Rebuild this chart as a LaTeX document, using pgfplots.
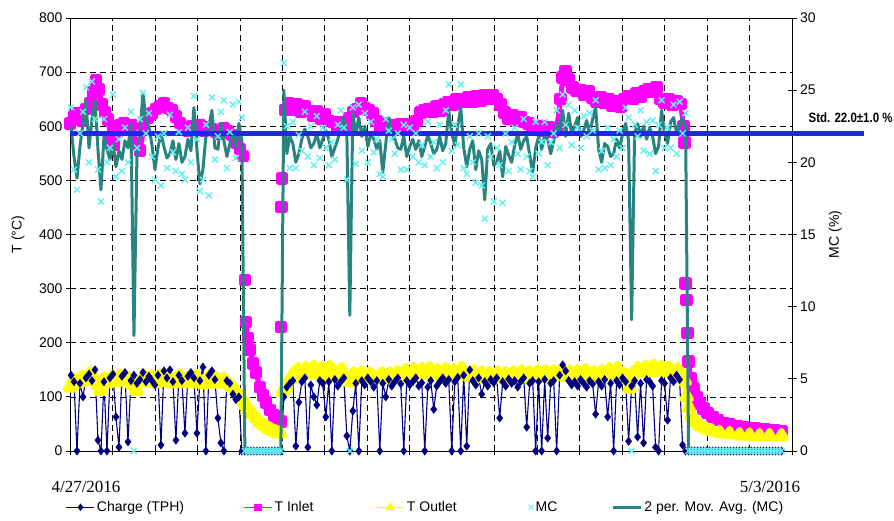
\documentclass[border=0pt]{standalone}
\usepackage{fontspec}
\setmainfont{Liberation Sans}
\newfontfamily\seriffont{Liberation Serif}
\newfontfamily\condfont[FakeStretch=0.85]{Liberation Sans}
\usepackage{pgfplots}
\usepackage{pgfplotstable}
\pgfplotsset{compat=1.18}
\definecolor{navyc}{RGB}{0,0,128}
\definecolor{magc}{RGB}{255,0,255}
\definecolor{yelc}{RGB}{255,255,0}
\definecolor{cyanc}{RGB}{100,240,240}
\definecolor{tealc}{RGB}{40,132,128}
\definecolor{stdc}{RGB}{30,40,245}

\pgfplotstableread{
x ch mc ma
71 140 23.8 22.5
74 128 19.5 20.4
77 0 18.1 18.9
80 125 22.0 21.1
83 100 23.5 22.7
86 135 25.2 24.3
89 142 20.0 21.0
92 130 25.6 23.0
95 150 23.0 24.3
98 20 19.5 20.9
101 0 17.3 18.1
104 128 23.0 21.8
107 0 20.0 20.9
110 135 21.0 20.2
113 142 24.7 21.3
116 63 19.0 19.7
119 7 21.6 20.8
122 138 19.4 20.2
125 145 22.4 21.5
128 17 20.0 21.0
131 130 23.5 22.7
134 140 0 8.0
137 125 21.0 20.5
140 132 23.0 22.0
143 145 24.8 24.8
146 128 22.0 23.0
149 138 23.4 22.5
152 130 20.4 21.2
155 122 18.8 19.5
158 140 21.8 21.0
161 11 18.4 22.0
164 148 22.0 21.1
167 135 19.6 20.3
170 150 23.3 20.6
173 128 20.7 21.5
176 20 19.4 20.2
179 140 22.1 21.3
182 130 19.2 20.0
185 33 18.8 20.4
188 138 22.4 21.6
191 145 20.0 20.8
194 135 24.6 23.8
197 33 21.6 20.9
200 130 18.0 18.5
203 155 18.8 19.5
206 0 22.6 21.8
209 140 17.7 22.5
212 148 24.5 23.6
215 132 20.2 21.0
218 61 21.8 20.9
221 15 23.5 22.7
224 0 24.3 21.5
227 130 19.6 20.4
230 125 22.1 21.3
233 105 24.0 22.0
236 95 20.3 21.0
239 100 24.2 22.7
242 0 23.1 21.5
245 0 0 0
248 0 0 0
251 0 0 0
254 0 0 0
257 0 0 0
260 0 0 0
263 0 0 0
266 0 0 0
269 0 0 0
272 0 0 0
275 0 0 0
278 0 0 0
281 0 0 0
284 100 26.9 25.0
287 118 22.5 20.6
290 125 19.6 21.8
293 130 22.8 21.3
296 9 19.6 20.0
299 90 21.9 20.6
302 128 20.8 21.6
305 135 23.5 22.3
308 7 20.4 21.8
311 122 22.5 21.0
314 100 19.8 21.3
317 85 23.2 22.0
320 130 20.3 21.0
323 125 22.4 21.6
326 63 21.0 22.2
329 128 19.8 21.6
332 0 21.4 20.4
335 132 20.2 21.0
338 120 22.6 21.6
341 128 23.6 22.5
344 135 22.4 23.1
347 28 18.8 22.2
350 0 0 9.4
353 74 23.8 23.4
356 125 19.9 22.0
359 0 24.0 23.1
362 130 20.8 21.8
365 122 23.4 22.5
368 135 20.0 21.1
371 128 22.8 22.0
374 118 20.7 21.6
377 130 21.6 20.9
380 0 19.2 21.5
383 125 19.0 19.3
386 100 23.0 21.3
389 132 22.2 23.1
392 120 21.6 22.0
395 128 20.6 21.6
398 135 22.0 21.0
401 124 19.5 20.9
404 0 22.6 21.8
407 130 19.5 20.4
410 122 22.4 21.1
413 128 20.4 21.6
416 135 22.0 20.9
419 120 20.0 21.5
422 126 21.2 20.4
425 0 19.8 21.1
428 118 22.8 21.9
431 130 20.4 21.3
434 77 21.4 20.6
437 120 19.6 20.9
440 128 22.6 21.8
443 135 20.0 20.8
446 125 23.6 21.3
449 132 25.4 23.6
452 0 20.8 22.0
455 128 22.6 21.2
458 136 21.2 22.5
461 0 25.4 23.8
464 140 19.6 21.0
467 9 19.2 19.7
470 150 21.8 20.9
473 130 20.0 21.5
476 122 18.6 19.5
479 135 22.0 20.8
482 105 18.4 20.2
485 128 16.1 17.4
488 120 21.8 20.9
491 132 20.4 21.3
494 126 17.3 19.8
497 135 21.0 20.0
500 61 19.8 20.8
503 128 17.2 19.0
506 120 22.0 21.1
509 133 19.4 20.5
512 125 21.4 20.0
515 130 22.4 21.2
518 118 20.6 22.0
521 128 19.5 20.9
524 135 23.0 21.5
527 44 20.4 21.8
530 125 19.4 20.5
533 130 19.0 19.3
536 0 22.8 21.0
539 128 20.6 21.8
542 0 21.4 20.9
545 132 22.8 21.9
548 24 19.8 21.6
551 125 21.4 20.6
554 130 22.0 21.5
557 0 23.6 22.7
560 140 21.0 22.0
563 159 24.7 23.6
566 148 22.6 21.8
569 130 24.0 23.4
572 122 21.2 22.0
575 128 23.6 22.5
578 120 22.4 23.1
581 132 21.0 21.8
584 125 23.2 22.2
587 118 21.8 22.9
590 130 23.4 22.0
593 124 22.2 23.0
596 68 24.3 23.8
599 128 19.5 20.9
602 120 20.8 20.0
605 132 19.6 21.3
608 63 22.4 21.1
611 125 19.8 20.4
614 0 21.6 20.6
617 130 20.4 21.6
620 122 22.2 21.0
623 135 21.0 22.0
626 128 23.8 22.7
629 18 23.1 21.5
632 120 0 9.1
635 130 22.6 22.0
638 26 21.8 22.7
641 125 23.6 21.8
644 15 20.8 22.5
647 132 22.8 21.6
650 128 20.6 22.4
653 120 22.9 21.8
656 7 19.4 20.6
659 0 22.6 21.1
662 130 24.3 23.6
665 125 21.0 22.0
668 57 22.4 21.3
671 135 21.0 22.8
674 128 24.0 23.1
677 140 20.6 22.0
680 132 24.2 22.6
683 11 22.0 23.1
686 0 23.4 22.5
689 0 0 0
692 0 0 0
695 0 0 0
698 0 0 0
701 0 0 0
704 0 0 0
707 0 0 0
710 0 0 0
713 0 0 0
716 0 0 0
719 0 0 0
722 0 0 0
725 0 0 0
728 0 0 0
731 0 0 0
734 0 0 0
737 0 0 0
740 0 0 0
743 0 0 0
746 0 0 0
749 0 0 0
752 0 0 0
755 0 0 0
758 0 0 0
761 0 0 0
764 0 0 0
767 0 0 0
770 0 0 0
773 0 0 0
776 0 0 0
779 0 0 0
782 0 0 0
}\main

\pgfplotstableread{
x t
70 605
74 618
78 624
82 610
86 632
90 642
93 662
96 685
99 668
102 640
105 626
108 612
111 578
114 566
117 590
120 602
124 606
128 596
132 602
136 568
140 555
144 598
148 616
152 624
156 632
160 636
164 642
168 634
172 630
176 618
180 606
184 596
188 592
192 600
196 594
200 602
204 592
208 598
212 594
216 590
220 586
224 596
228 590
232 584
236 570
240 558
243 545
244 nan
245 316
245.5 nan
246 238
248 209
250 187
253 162
256 145
260 118
263 102
266 90
270 76
274 66
278 58
281 54
281 nan
281 229
281 nan
281.5 451
281.5 nan
282 504
282 nan
285 630
289 642
293 630
297 640
301 626
305 636
309 628
313 620
317 628
321 614
325 622
329 610
333 608
337 600
341 608
345 598
349 615
353 626
357 632
361 642
365 634
369 630
373 624
377 610
381 598
385 606
389 596
393 602
397 595
401 603
405 597
409 604
413 598
417 610
421 625
425 630
429 632
433 626
437 636
441 628
445 640
449 645
453 640
457 650
461 648
465 646
469 654
473 646
477 656
481 648
485 658
489 650
493 658
497 650
501 640
505 625
509 614
513 620
517 610
521 617
525 608
529 605
533 597
537 598
541 600
545 592
549 598
553 590
557 597
561 650
563 690
566 702
569 686
573 672
577 666
581 666
585 658
589 664
593 652
597 646
601 654
605 644
609 650
613 638
617 646
621 636
625 650
629 656
633 650
637 660
641 654
645 664
649 668
653 664
657 672
661 650
665 644
669 650
673 640
677 646
681 641
684 600
684.5 nan
685 570
685.5 nan
686 310
686.5 nan
687 279
687.5 nan
688 218
688.5 nan
689 165
691 135
694 115
697 100
700 88
704 78
708 70
713 63
718 57
724 52
730 49
738 46
746 44
755 42
765 40
775 38
782 37
}\tin

\pgfplotstableread{
x t
70 118
74 130
78 126
82 136
86 130
90 142
94 134
98 122
101 112
104 132
108 126
112 136
116 128
120 138
124 130
128 134
132 124
136 112
140 130
144 138
148 128
152 136
156 126
160 138
164 128
168 136
172 126
176 134
180 138
184 126
188 134
192 126
196 138
200 128
204 124
208 136
212 126
216 134
220 126
224 132
228 124
232 118
236 110
240 102
243 94
246 84
249 76
252 69
256 61
260 53
264 47
268 42
272 38
276 35
280 33
281 nan
283 110
284 nan
286 118
290 132
294 144
298 150
302 140
306 152
310 142
314 154
318 144
322 152
326 140
330 154
334 146
338 138
342 150
346 136
350 128
354 142
358 134
362 144
366 134
370 142
374 136
378 134
382 142
386 134
390 142
394 134
398 144
402 136
406 148
410 140
414 150
418 142
422 150
426 142
430 152
434 144
438 148
442 138
446 150
450 142
454 148
458 140
462 152
466 144
470 138
474 146
478 136
482 144
486 134
490 142
494 136
498 144
502 134
506 142
510 134
514 144
518 136
522 146
526 136
530 144
534 136
538 146
542 138
546 146
550 136
554 146
558 140
562 148
566 138
570 146
574 138
578 146
582 140
586 148
590 138
594 144
598 136
602 146
606 140
610 150
614 142
618 152
622 142
626 140
630 116
634 144
638 152
642 146
646 154
650 146
654 156
658 148
662 154
666 146
670 152
674 144
678 150
682 142
685 130
687 100
689 80
692 64
696 54
700 47
706 41
712 37
720 34
730 32
740 30
750 29
760 28
770 28
782 28
}\tout

\begin{document}
\begin{tikzpicture}
\useasboundingbox (-70bp,-70bp) rectangle (824bp,451bp);
\begin{axis}[
  at={(0,0)}, anchor=south west,
  scale only axis, width=722bp, height=433bp,
  xmin=70, xmax=792.5, ymin=0, ymax=800,
  xtick={70,112.5,...,792.5}, xticklabels={},
  ytick={0,100,...,800},
  grid=major,
  major grid style={black, dash pattern=on 6bp off 4bp, line width=0.7bp},
  axis line style={black, line width=0.8bp},
  tick style={black, line width=0.8bp},
  tick align=outside, major tick length=4bp,
  xtick pos=bottom, ytick pos=left,
  ticklabel style={font=\fontsize{14bp}{16bp}\selectfont},
  /pgf/number format/assume math mode=true,
  ylabel={T (°C)},
  ylabel style={font=\fontsize{14bp}{16bp}\selectfont, at={(axis description cs:-0.072,0.5)}, anchor=center},
  unbounded coords=jump,
  clip=false,
  legend columns=5,
  legend style={at={(axis description cs:-0.01,-0.13)}, anchor=west, draw=none, fill=none,
    font=\fontsize{14bp}{16bp}\selectfont,
    /tikz/column 2/.style={column sep=57bp},
    /tikz/column 4/.style={column sep=60bp},
    /tikz/column 6/.style={column sep=70bp},
    /tikz/column 8/.style={column sep=52bp}},
  legend image code/.code={\draw[mark repeat=2,mark phase=2,#1] plot coordinates {(0bp,0bp) (14bp,0bp) (28bp,0bp)};},
]
\addlegendimage{navyc, line width=1bp, mark=diamond*, mark size=3bp}
\addlegendentry{Charge (TPH)}
\addlegendimage{magc, line width=1.5bp, mark=square*, mark size=3bp}
\addlegendentry{T Inlet}
\addlegendimage{yelc, line width=1.5bp, mark=triangle*, mark size=4bp}
\addlegendentry{T Outlet}
\addlegendimage{only marks, mark=x, cyanc, mark size=3.5bp, line width=1bp}
\addlegendentry{MC}
\addlegendimage{tealc, line width=3bp}
\addlegendentry{2 per. Mov. Avg. (MC)}

\addplot[forget plot, magc, line width=5bp, line join=round, mark=square*, mark size=3.8bp] table[x=x, y=t] {\tin};
\addplot[forget plot, yelc, line width=6bp, line join=round, mark=triangle*, mark size=5bp] table[x=x, y=t] {\tout};
\addplot[forget plot, navyc, line width=1.1bp, mark=diamond*, mark size=3.6bp] table[x=x, y=ch] {\main};
\end{axis}
\begin{axis}[
  at={(0,0)}, anchor=south west,
  scale only axis, width=722bp, height=433bp,
  xmin=70, xmax=792.5, ymin=0, ymax=30,
  axis x line=none, axis y line*=right,
  ytick={0,5,...,30},
  axis line style={black, line width=0.8bp},
  tick style={black, line width=0.8bp},
  tick align=center, major tick length=9bp,
  ticklabel style={font=\fontsize{14bp}{16bp}\selectfont},
  /pgf/number format/assume math mode=true,
  ylabel={MC (\%)},
  ylabel style={font=\fontsize{14bp}{16bp}\selectfont, at={(axis description cs:1.06,0.5)}, anchor=center, rotate=0},
  clip=false,
]
\addplot[only marks, mark=x, mark size=4.2bp, cyanc, line width=1.4bp] table[x=x, y=mc] {\main};
\addplot[tealc, line width=3bp, line join=round, no marks] table[x=x, y=ma] {\main};
\addplot[stdc, line width=4.5bp, no marks] coordinates {(70,22) (865,22)};
\node[anchor=base west, inner sep=0pt, font=\condfont\bfseries\fontsize{13.5bp}{15bp}\selectfont] at (axis cs:809,22.75) {Std. 22.0±1.0 \%};
\end{axis}
\node[font=\seriffont\fontsize{17bp}{19bp}\selectfont] at (16bp,-36bp) {4/27/2016};
\node[font=\seriffont\fontsize{17bp}{19bp}\selectfont] at (700bp,-36bp) {5/3/2016};
\end{tikzpicture}
\end{document}
